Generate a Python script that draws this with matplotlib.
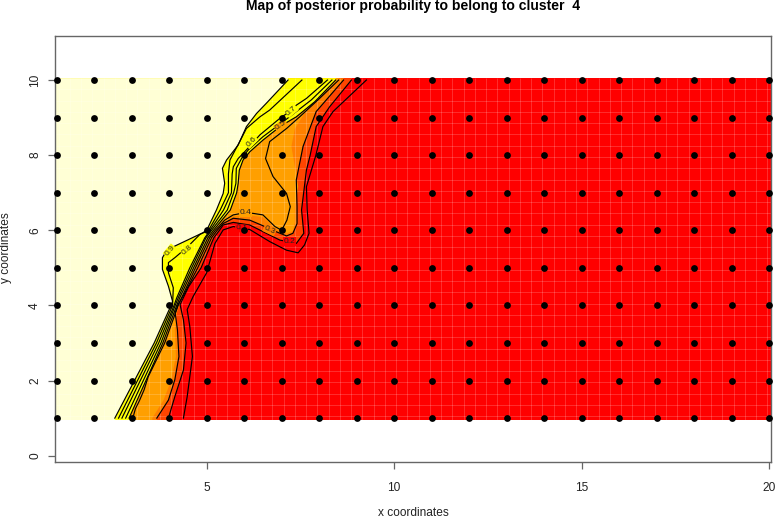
#!/usr/bin/env python3
import matplotlib
matplotlib.use('Agg')
import matplotlib.pyplot as plt
import numpy as np

plt.rcParams['font.family'] = ['Liberation Sans', 'DejaVu Sans']

# isolines of the posterior probability (top edge to bottom edge)
level_09_x = [7.17, 6.59, 6.33, 6.06, 5.84, 5.53, 5.42, 5.48, 5.44, 5.26, 5.01, 4.91, 4.15, 3.89, 3.82, 3.82, 3.98, 4.09, 4.05, 3.60, 2.55]
level_09_y = [10.0, 9.38, 9.11, 8.76, 8.27, 7.87, 7.65, 7.25, 6.98, 6.54, 6.02, 5.94, 5.58, 5.39, 5.27, 4.96, 4.51, 4.11, 4.00, 3.00, 1.00]
level_08_x = [7.54, 6.68, 6.42, 6.06, 5.88, 5.62, 5.58, 5.58, 5.36, 5.05, 4.82, 4.48, 4.15, 3.98, 3.98, 4.11, 4.09, 3.66, 2.65]
level_08_y = [10.0, 9.20, 9.02, 8.71, 8.36, 7.87, 7.50, 7.00, 6.54, 6.00, 5.89, 5.55, 5.27, 5.14, 4.87, 4.47, 4.00, 3.00, 1.00]
level_07_x = [8.22, 7.66, 7.39, 7.26, 7.00, 6.42, 6.06, 5.84, 5.71, 5.68, 5.66, 5.45, 5.09, 4.95, 4.55, 4.20, 4.13, 3.72, 2.74]
level_07_y = [10.0, 9.51, 9.33, 9.18, 9.02, 8.54, 8.14, 7.91, 7.69, 7.50, 7.00, 6.54, 6.00, 5.80, 5.00, 4.20, 4.00, 3.00, 1.00]
level_06_x = [8.34, 7.79, 7.21, 6.50, 6.11, 5.93, 5.79, 5.78, 5.72, 5.55, 5.13, 4.98, 4.60, 4.24, 4.16, 3.78, 2.84]
level_06_y = [10.0, 9.47, 9.02, 8.49, 8.14, 7.91, 7.65, 7.25, 7.00, 6.54, 6.00, 5.80, 5.00, 4.20, 4.00, 3.00, 1.00]
level_05_x = [8.44, 7.88, 7.39, 6.98, 6.50, 6.15, 5.97, 5.87, 5.84, 5.80, 5.63, 5.18, 5.03, 4.65, 4.28, 4.20, 3.83, 2.93]
level_05_y = [10.0, 9.42, 9.02, 8.78, 8.40, 8.09, 7.87, 7.60, 7.25, 7.00, 6.54, 6.00, 5.80, 5.00, 4.20, 4.00, 3.00, 1.00]
level_04_x = [8.52, 8.01, 7.48, 7.13, 6.68, 6.57, 6.77, 7.13, 7.23, 7.14, 7.00, 6.82, 6.50, 6.24, 6.03, 5.71, 5.48, 5.23, 5.08, 4.70, 4.33, 4.24, 3.88, 3.44, 3.33, 3.20, 3.10, 3.03]
level_04_y = [10.0, 9.51, 9.02, 8.71, 8.36, 7.91, 7.43, 6.98, 6.63, 6.27, 6.00, 6.10, 6.41, 6.45, 6.47, 6.41, 6.27, 6.00, 5.80, 5.00, 4.20, 4.00, 3.00, 2.10, 1.75, 1.45, 1.25, 1.00]
level_03_x = [8.65, 8.19, 7.92, 7.57, 7.39, 7.41, 7.41, 7.30, 7.13, 6.86, 6.55, 6.15, 5.71, 5.44, 5.28, 5.13, 4.76, 4.40, 4.24, 4.16, 4.22, 4.26, 4.15, 3.98, 3.67]
level_03_y = [10.0, 9.47, 9.16, 8.23, 7.34, 6.63, 6.18, 5.92, 5.85, 5.96, 6.10, 6.27, 6.32, 6.18, 6.00, 5.80, 5.00, 4.30, 4.03, 3.80, 3.35, 2.64, 2.02, 1.48, 1.00]
level_02_x = [8.86, 8.28, 7.92, 7.76, 7.66, 7.53, 7.59, 7.39, 6.95, 6.59, 6.15, 5.71, 5.44, 5.34, 5.19, 4.85, 4.52, 4.29, 4.38, 4.45, 4.38, 4.15, 3.98]
level_02_y = [10.0, 9.29, 8.76, 8.00, 7.60, 6.54, 5.92, 5.65, 5.74, 5.92, 6.14, 6.21, 6.14, 6.00, 5.80, 5.00, 4.50, 4.02, 3.62, 3.00, 2.28, 1.57, 1.00]
level_01_x = [9.26, 8.37, 8.10, 7.91, 7.66, 7.68, 7.73, 7.61, 7.44, 7.13, 6.68, 6.15, 5.71, 5.44, 5.22, 5.00, 4.64, 4.48, 4.55, 4.62, 4.48, 4.38]
level_01_y = [10.0, 9.16, 8.76, 7.99, 7.16, 6.54, 5.92, 5.61, 5.40, 5.47, 5.70, 6.02, 6.10, 6.01, 5.65, 4.87, 4.24, 3.89, 3.44, 2.64, 1.57, 1.00]

# edge of the lighter orange cells, it does not follow one isoline
amber_edge_x = [8.52, 8.01, 7.60, 7.35, 7.26, 7.44, 7.35, 7.35, 7.30, 7.13, 6.86, 6.50, 6.15, 5.71, 5.44, 5.26, 4.70, 4.30, 4.20, 4.15, 4.18, 4.05, 3.85, 3.55]
amber_edge_y = [10.0, 9.51, 9.10, 8.70, 8.23, 7.16, 6.60, 6.20, 5.98, 5.92, 6.02, 6.35, 6.40, 6.37, 6.22, 6.00, 5.00, 4.10, 3.80, 3.35, 2.64, 2.00, 1.48, 1.00]

level_names = ['0.1', '0.2', '0.3', '0.4', '0.5', '0.6', '0.7', '0.8', '0.9']
label_x = [5.93, 7.20, 6.68, 6.03, 6.98, 6.19, 7.26, 4.48, 4.02]
label_y = [6.05, 5.70, 6.01, 6.47, 8.78, 8.36, 9.18, 5.47, 5.45]
label_rot = [-5, 0, -25, 0, 35, 45, 40, 40, 50]

xticks = [5, 10, 15, 20]
yticks = [0, 2, 4, 6, 8, 10]
site_x = list(range(1, 21))
site_y = list(range(1, 11))

LEFT, RIGHT, BOTTOM, TOP = 0.95, 20.05, 0.95, 10.05

def fill_left_of(ax, xs, ys, color):
    # region between one edge and the left side of the image
    px = [xs[0]] + xs + [xs[-1], LEFT, LEFT]
    py = [TOP] + ys + [BOTTOM, BOTTOM, TOP]
    ax.fill(px, py, color=color, lw=0, zorder=1)

fig = plt.figure(figsize=(7.76, 5.18), dpi=100)
ax = fig.add_axes([55 / 776, (518 - 462.3) / 518, 716 / 776, 426.6 / 518])
ax.set_xlim(0.955, 20.05)
ax.set_ylim(-0.176, 11.18)

# image colours
ax.fill([LEFT, RIGHT, RIGHT, LEFT], [BOTTOM, BOTTOM, TOP, TOP], color='#FF0000', lw=0, zorder=0)
fill_left_of(ax, level_02_x, level_02_y, '#FF4500')
fill_left_of(ax, level_03_x, level_03_y, '#FF8000')
fill_left_of(ax, amber_edge_x, amber_edge_y, '#FF9F00')
fill_left_of(ax, level_05_x, level_05_y, '#FFFF00')
fill_left_of(ax, level_09_x, level_09_y, '#FFFFD5')

# light seams between the image cells
ax.vlines(np.arange(1.05, 20.05, 0.3), BOTTOM, TOP, color='white', lw=0.7, alpha=0.18, zorder=2)
ax.hlines(np.arange(1.05, 10.05, 0.3), LEFT, RIGHT, color='white', lw=0.7, alpha=0.18, zorder=2)

all_levels = [
    (level_01_x, level_01_y), (level_02_x, level_02_y), (level_03_x, level_03_y),
    (level_04_x, level_04_y), (level_05_x, level_05_y), (level_06_x, level_06_y),
    (level_07_x, level_07_y), (level_08_x, level_08_y), (level_09_x, level_09_y),
]
for xs, ys in all_levels:
    ax.plot(xs, ys, color='black', lw=0.85, zorder=3, solid_joinstyle='round')

label_bg = ['#FF0000', '#FF0000', '#FF8000', '#FF9F00', '#FF9F00', '#FFFF00', '#FFFF00', '#FFFF00', '#FFFF00']
for name, lx, ly, rot, bg in zip(level_names, label_x, label_y, label_rot, label_bg):
    ax.text(lx, ly, name, fontsize=6, rotation=rot, ha='center', va='center', color='#222222',
            rotation_mode='anchor', zorder=4,
            bbox=dict(facecolor=bg, edgecolor='none', pad=0.4))

# observation sites
gx, gy = np.meshgrid(site_x, site_y)
ax.plot(gx.ravel(), gy.ravel(), 'o', color='black', ms=4.9, mew=0, clip_on=False, zorder=5)

for side in ax.spines.values():
    side.set_color('#666666')
    side.set_linewidth(1.0)
ax.set_xticks(xticks)
ax.set_yticks(yticks)
ax.tick_params(length=5, width=0.9, color='#666666', labelsize=8.6, labelcolor='#222222')
ax.tick_params(axis='x', pad=9)
ax.tick_params(axis='y', pad=5)
for t in ax.get_yticklabels():
    t.set_rotation(90)
    t.set_va('center')

fig.text(413 / 776, 1 - 513 / 518, 'x coordinates', fontsize=8.6, ha='center', va='center', color='#222222')
fig.text(6 / 776, 1 - 248 / 518, 'y coordinates', fontsize=8.6, rotation=90, ha='center', va='center', color='#222222')
fig.text(413 / 776, 1 - 6 / 518, 'Map of posterior probability to belong to cluster  4', fontsize=10.1,
         fontweight='bold', ha='center', va='center', color='black')

plt.savefig('out.png', dpi=100)
plt.close()
